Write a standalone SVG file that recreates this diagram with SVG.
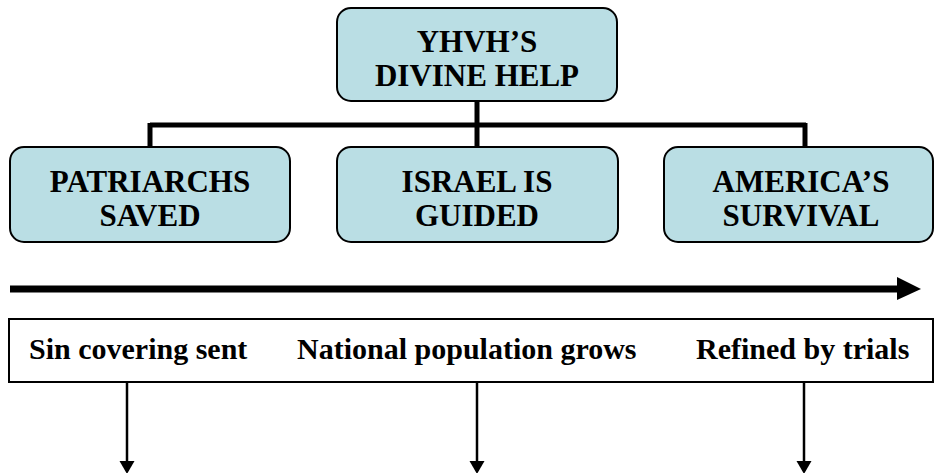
<svg xmlns="http://www.w3.org/2000/svg" width="935" height="473" viewBox="0 0 935 473">
<style>
.node rect{fill:#BADEE4;stroke:#000;stroke-width:2}
.lbl{font-weight:bold;font-size:31px;fill:#000;text-anchor:middle}
.bar{font-weight:bold;font-size:30px;fill:#000}
.thick{stroke:#000;stroke-width:5;fill:none}
.thin{stroke:#000;stroke-width:2.5;fill:none}
</style>
<rect width="935" height="473" fill="#fff"/>
<g id="connectors">
<line class="thick" x1="477" y1="101" x2="477" y2="147"/>
<line class="thick" x1="150" y1="125" x2="806" y2="125"/>
<line class="thick" x1="150" y1="123" x2="150" y2="147"/>
<line class="thick" x1="805" y1="123" x2="805" y2="147"/>
<line x1="10" y1="289" x2="900" y2="289" stroke="#000" stroke-width="7"/>
<polygon points="897,277 921,289 897,300" fill="#000"/>
<line class="thin" x1="127" y1="383" x2="127" y2="462"/>
<polygon points="119.5,461 134.5,461 127,474" fill="#000"/>
<line class="thin" x1="477" y1="383" x2="477" y2="462"/>
<polygon points="469.5,461 484.5,461 477,474" fill="#000"/>
<line class="thin" x1="804" y1="383" x2="804" y2="462"/>
<polygon points="796.5,461 811.5,461 804,474" fill="#000"/>
</g>
<g font-family="Liberation Serif, DejaVu Serif, serif">
<g id="n-top" class="node">
<rect x="337" y="8" width="280" height="93" rx="14"/>
<text class="lbl" x="477" y="52">YHVH’S</text>
<text class="lbl" x="477" y="86">DIVINE HELP</text>
</g>
<g id="n-patriarchs" class="node">
<rect x="10" y="147" width="280" height="95" rx="14"/>
<text class="lbl" x="150" y="192">PATRIARCHS</text>
<text class="lbl" x="150" y="226">SAVED</text>
</g>
<g id="n-israel" class="node">
<rect x="337" y="147" width="281" height="95" rx="14"/>
<text class="lbl" x="477" y="192">ISRAEL IS</text>
<text class="lbl" x="477" y="226">GUIDED</text>
</g>
<g id="n-america" class="node">
<rect x="664" y="147" width="269" height="95" rx="14"/>
<text class="lbl" x="801" y="192">AMERICA’S</text>
<text class="lbl" x="801" y="226">SURVIVAL</text>
</g>
<g id="n-bar">
<rect x="9" y="319" width="924" height="63" fill="#fff" stroke="#000" stroke-width="2"/>
<text class="bar" x="29" y="359">Sin covering sent</text>
<text class="bar" x="297" y="359">National population grows</text>
<text class="bar" x="696" y="359">Refined by trials</text>
</g>
</g>
</svg>
